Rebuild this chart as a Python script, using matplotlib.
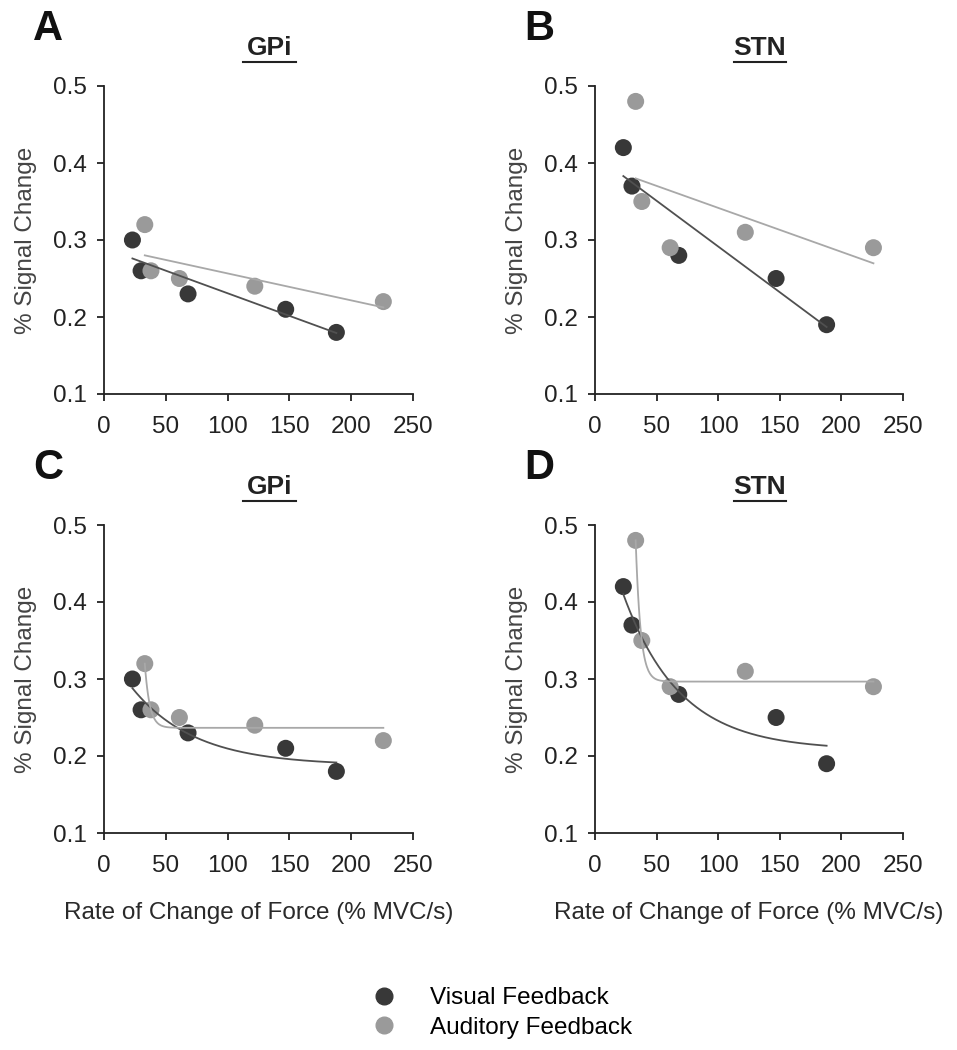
#!/usr/bin/env python3
# -*- coding: utf-8 -*-

import numpy as np
import matplotlib
matplotlib.use("Agg")
import matplotlib.pyplot as plt
from matplotlib.lines import Line2D

plt.rcParams['font.family'] = ['Liberation Sans', 'DejaVu Sans']

### DATA ###

visual_x = [23, 30, 68, 147, 188]
auditory_x = [33, 38, 61, 122, 226]

gpi_visual = [0.30, 0.26, 0.23, 0.21, 0.18]
gpi_auditory = [0.32, 0.26, 0.25, 0.24, 0.22]
stn_visual = [0.42, 0.37, 0.28, 0.25, 0.19]
stn_auditory = [0.48, 0.35, 0.29, 0.31, 0.29]

panel_letters = ['A', 'B', 'C', 'D']
region_names = ['GPi', 'STN', 'GPi', 'STN']
xticks = [0, 50, 100, 150, 200, 250]
yticks = [0.1, 0.2, 0.3, 0.4, 0.5]

dark = '#383838'
light = '#9a9a9a'
dark_line = '#505050'
light_line = '#a8a8a8'

### FUNCTIONS ###

def linear_fit(x, y):
    x = np.asarray(x, float)
    coef = np.polyfit(x, y, 1)
    xs = np.linspace(x.min(), x.max(), 50)
    return xs, np.polyval(coef, xs)

def exp_fit(x, y):
    # y = c + a*exp(-k*x), grid search on k, least squares for a, c
    x = np.asarray(x, float)
    y = np.asarray(y, float)
    best = None
    for k in np.logspace(-3.5, 0.7, 3000):
        A = np.column_stack([np.ones_like(x), np.exp(-k * x)])
        sol, *_ = np.linalg.lstsq(A, y, rcond=None)
        err = np.sum((A @ sol - y) ** 2)
        if best is None or err < best[0]:
            best = (err, k, sol)
    _, k, (c, a) = best
    xs = np.linspace(x.min(), x.max(), 300)
    return xs, c + a * np.exp(-k * xs)

### END FUNCTIONS ###

fig = plt.figure(figsize=(9.57, 10.5), dpi=100)
W, H = 957.0, 1050.0

# axes boxes in pixels: left, top, right, bottom
boxes = [(104, 86, 413, 394), (595, 86, 903, 394),
         (104, 525, 413, 833), (595, 525, 903, 833)]
series = [(gpi_visual, gpi_auditory), (stn_visual, stn_auditory),
          (gpi_visual, gpi_auditory), (stn_visual, stn_auditory)]

titles = []
for i, (l, t, r, b) in enumerate(boxes):
    ax = fig.add_axes([l / W, 1 - b / H, (r - l) / W, (b - t) / H])
    vis, aud = series[i]
    fit = linear_fit if i < 2 else exp_fit
    xs, ys = fit(visual_x, vis)
    ax.plot(xs, ys, color=dark_line, lw=1.3, zorder=3)
    xs, ys = fit(auditory_x, aud)
    ax.plot(xs, ys, color=light_line, lw=1.3, zorder=3)
    ax.scatter(visual_x, vis, s=150, color=dark, edgecolors='none', zorder=2)
    ax.scatter(auditory_x, aud, s=150, color=light, edgecolors='none', zorder=2)

    ax.set_xlim(0, 250)
    ax.set_ylim(0.1, 0.5)
    ax.set_xticks(xticks)
    ax.set_yticks(yticks)
    ax.set_yticklabels(['%.1f' % v for v in yticks])
    for s in ['top', 'right']:
        ax.spines[s].set_visible(False)
    for s in ['left', 'bottom']:
        ax.spines[s].set_linewidth(1.3)
        ax.spines[s].set_color('#222222')
    ax.tick_params(direction='out', length=5, width=1.3, color='#222222',
                   labelsize=17.5, labelcolor='#222222')
    ax.tick_params(axis='x', pad=11)
    ax.tick_params(axis='y', pad=7)
    ax.set_ylabel('% Signal Change', fontsize=17.5, color='#444444', labelpad=12)
    if i >= 2:
        ax.set_xlabel('Rate of Change of Force (% MVC/s)', fontsize=17.5,
                      color='#2a2a2a', labelpad=18)

    cx = (l + r) / 2 + 11
    ty = t - 38
    fig.text(cx / W, 1 - ty / H, region_names[i], fontsize=19,
             fontweight='bold', ha='center', va='center', color='#222222')
    fig.text((l - 56) / W, 1 - (t - 57) / H, panel_letters[i], fontsize=30,
             fontweight='bold', ha='center', va='center', color='#111111')
    titles.append((cx, ty))

# underline the titles
for cx, ty in titles:
    fig.add_artist(Line2D([(cx - 26) / W, (cx + 26) / W],
                          [1 - (ty + 14) / H, 1 - (ty + 14) / H],
                          color='#222222', lw=1.5))

# legend
handles = [Line2D([], [], marker='o', ls='none', color=dark, markersize=12),
           Line2D([], [], marker='o', ls='none', color=light, markersize=12)]
fig.legend(handles, ['Visual Feedback', 'Auditory Feedback'],
           loc='center left', bbox_to_anchor=(372 / W, 1 - 1013 / H),
           frameon=False, fontsize=17.5, handletextpad=1.4, labelspacing=0.3,
           borderpad=0, borderaxespad=0, handlelength=1.0)

fig.savefig('out.png', dpi=100)
